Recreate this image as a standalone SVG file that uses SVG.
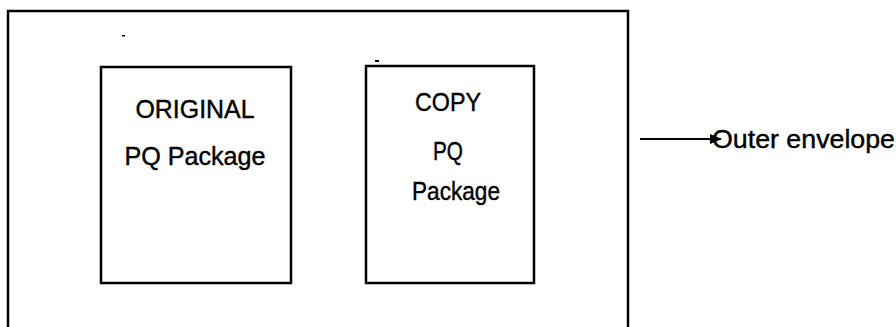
<svg xmlns="http://www.w3.org/2000/svg" width="896" height="327" viewBox="0 0 896 327">
<style>
  .box { fill: #fff; stroke: #000; stroke-width: 2.5; }
  .outer { fill: none; stroke: #000; stroke-width: 2.5; }
  .lbl { font-family: "Liberation Sans", Arial, sans-serif; font-size: 25px; fill: #000; stroke: #000; stroke-width: 0.4; text-anchor: middle; }
  .lbl-l { font-family: "Liberation Sans", Arial, sans-serif; font-size: 25px; fill: #000; stroke: #000; stroke-width: 0.4; }
  .conn { stroke: #000; stroke-width: 1.8; fill: none; }
</style>
<defs>
  <marker id="arrow" viewBox="0 0 12 10" refX="11" refY="5" markerWidth="12" markerHeight="10" orient="auto" markerUnits="userSpaceOnUse">
    <path d="M0,0 L12,5 L0,10 z" fill="#000"/>
  </marker>
</defs>
<rect width="896" height="327" fill="#fff"/>
<g id="outer-envelope">
  <path class="outer" d="M8,330 V11 H628 V330"/>
</g>
<g id="original">
  <rect class="box" x="101" y="67" width="190" height="216"/>
  <text class="lbl" x="195" y="118" textLength="119" lengthAdjust="spacingAndGlyphs">ORIGINAL</text>
  <text class="lbl" x="195" y="165" textLength="141" lengthAdjust="spacingAndGlyphs">PQ Package</text>
</g>
<g id="copy">
  <rect class="box" x="366" y="66" width="168" height="217"/>
  <text class="lbl" x="448" y="111" textLength="66" lengthAdjust="spacingAndGlyphs">COPY</text>
  <text class="lbl" x="448" y="160" textLength="30" lengthAdjust="spacingAndGlyphs">PQ</text>
  <text class="lbl" x="456" y="200" textLength="88" lengthAdjust="spacingAndGlyphs">Package</text>
</g>
<g id="connectors">
  <line class="conn" x1="640" y1="139" x2="721" y2="139" marker-end="url(#arrow)"/>
</g>
<g id="label-outer">
  <text class="lbl-l" x="712" y="148" textLength="183" lengthAdjust="spacingAndGlyphs">Outer envelope</text>
</g>
<g id="specks" fill="#000">
  <rect x="122" y="35" width="3" height="1.5"/>
  <rect x="375" y="60" width="4" height="2"/>
</g>
</svg>
